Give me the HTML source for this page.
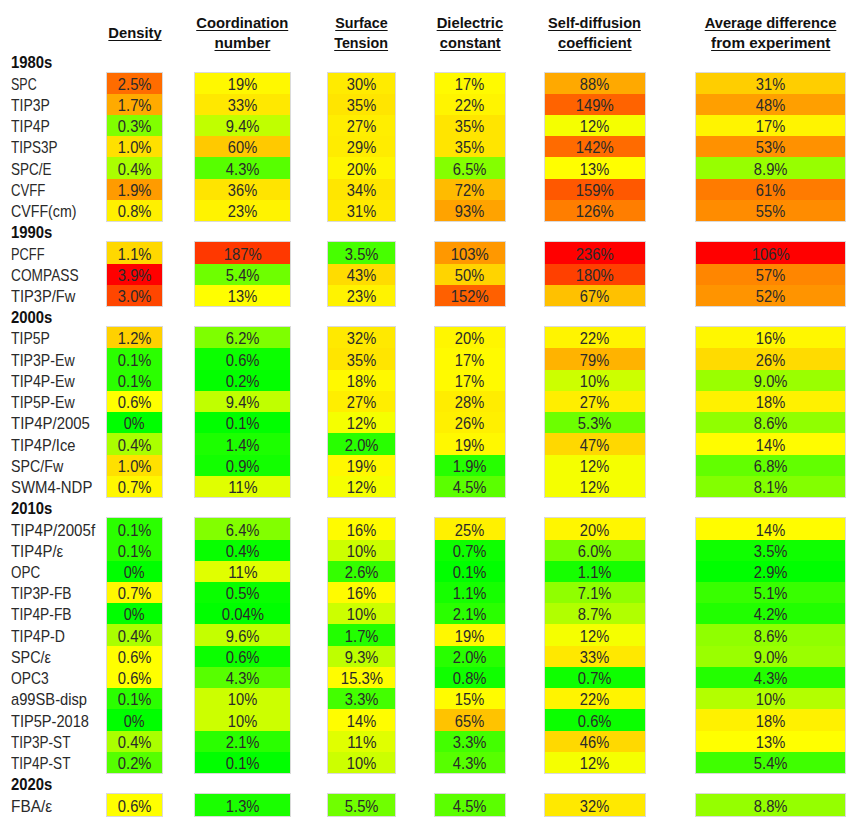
<!DOCTYPE html>
<html><head><meta charset="utf-8"><style>
html,body{margin:0;padding:0;background:#fff;}
body{width:860px;height:826px;position:relative;overflow:hidden;font-family:"Liberation Sans",Arial,sans-serif;color:#2a2a2a;}
.h{position:absolute;font-weight:bold;color:#111;font-size:15.5px;line-height:19.8px;text-align:center;white-space:nowrap;}
.h span{display:inline-block;transform-origin:50% 50%;text-decoration:underline;text-decoration-skip-ink:none;text-underline-offset:2px;text-decoration-thickness:1px;}
.lab{position:absolute;left:11px;font-size:15.5px;white-space:nowrap;line-height:21.23px;}
.lab span{display:inline-block;transform-origin:0 50%;}
.lab.b{font-weight:bold;color:#111;}
.blk{position:absolute;box-shadow:0 0 0 1px rgba(150,150,150,.35);}
.c{position:absolute;left:0;right:0;text-align:center;font-size:15.5px;line-height:21.23px;white-space:nowrap;}
.c span{display:inline-block;transform-origin:50% 50%;}
</style></head><body>

<div class="h" style="left:67px;width:135px;top:22.8px"><span style="transform:scaleX(0.952)">Density</span></div>
<div class="h" style="left:155px;width:175px;top:12.8px"><span style="transform:scaleX(0.954)">Coordination</span><br><span style="transform:scaleX(0.982)">number</span></div>
<div class="h" style="left:288px;width:147px;top:12.8px"><span style="transform:scaleX(0.921)">Surface</span><br><span style="transform:scaleX(0.924)">Tension</span></div>
<div class="h" style="left:395px;width:150px;top:12.8px"><span style="transform:scaleX(0.953)">Dielectric</span><br><span style="transform:scaleX(0.942)">constant</span></div>
<div class="h" style="left:505px;width:180px;top:12.8px"><span style="transform:scaleX(0.937)">Self-diffusion</span><br><span style="transform:scaleX(0.949)">coefficient</span></div>
<div class="h" style="left:656px;width:229px;top:12.8px"><span style="transform:scaleX(0.947)">Average difference</span><br><span style="transform:scaleX(0.982)">from experiment</span></div>
<div class="lab b" style="top:52.47px"><span style="transform:scale(0.957,1.08)">1980s</span></div>
<div class="lab" style="top:73.70px"><span style="transform:scale(0.805,1.08)">SPC</span></div>
<div class="lab" style="top:94.93px"><span style="transform:scale(0.900,1.08)">TIP3P</span></div>
<div class="lab" style="top:116.16px"><span style="transform:scale(0.900,1.08)">TIP4P</span></div>
<div class="lab" style="top:137.39px"><span style="transform:scale(0.872,1.08)">TIPS3P</span></div>
<div class="lab" style="top:158.62px"><span style="transform:scale(0.871,1.08)">SPC/E</span></div>
<div class="lab" style="top:179.85px"><span style="transform:scale(0.849,1.08)">CVFF</span></div>
<div class="lab" style="top:201.08px"><span style="transform:scale(0.916,1.08)">CVFF(cm)</span></div>
<div class="lab b" style="top:222.31px"><span style="transform:scale(0.957,1.08)">1990s</span></div>
<div class="lab" style="top:243.54px"><span style="transform:scale(0.827,1.08)">PCFF</span></div>
<div class="lab" style="top:264.77px"><span style="transform:scale(0.886,1.08)">COMPASS</span></div>
<div class="lab" style="top:286.00px"><span style="transform:scale(0.946,1.08)">TIP3P/Fw</span></div>
<div class="lab b" style="top:307.23px"><span style="transform:scale(0.957,1.08)">2000s</span></div>
<div class="lab" style="top:328.46px"><span style="transform:scale(0.900,1.08)">TIP5P</span></div>
<div class="lab" style="top:349.69px"><span style="transform:scale(0.912,1.08)">TIP3P-Ew</span></div>
<div class="lab" style="top:370.92px"><span style="transform:scale(0.912,1.08)">TIP4P-Ew</span></div>
<div class="lab" style="top:392.15px"><span style="transform:scale(0.912,1.08)">TIP5P-Ew</span></div>
<div class="lab" style="top:413.38px"><span style="transform:scale(0.964,1.08)">TIP4P/2005</span></div>
<div class="lab" style="top:434.61px"><span style="transform:scale(0.946,1.08)">TIP4P/Ice</span></div>
<div class="lab" style="top:455.84px"><span style="transform:scale(0.918,1.08)">SPC/Fw</span></div>
<div class="lab" style="top:477.07px"><span style="transform:scale(0.964,1.08)">SWM4-NDP</span></div>
<div class="lab b" style="top:498.30px"><span style="transform:scale(0.957,1.08)">2010s</span></div>
<div class="lab" style="top:519.53px"><span style="transform:scale(0.976,1.08)">TIP4P/2005f</span></div>
<div class="lab" style="top:540.76px"><span style="transform:scale(0.961,1.08)">TIP4P/ε</span></div>
<div class="lab" style="top:561.99px"><span style="transform:scale(0.867,1.08)">OPC</span></div>
<div class="lab" style="top:583.22px"><span style="transform:scale(0.889,1.08)">TIP3P-FB</span></div>
<div class="lab" style="top:604.45px"><span style="transform:scale(0.889,1.08)">TIP4P-FB</span></div>
<div class="lab" style="top:625.68px"><span style="transform:scale(0.907,1.08)">TIP4P-D</span></div>
<div class="lab" style="top:646.91px"><span style="transform:scale(0.927,1.08)">SPC/ε</span></div>
<div class="lab" style="top:668.14px"><span style="transform:scale(0.893,1.08)">OPC3</span></div>
<div class="lab" style="top:689.37px"><span style="transform:scale(0.949,1.08)">a99SB-disp</span></div>
<div class="lab" style="top:710.60px"><span style="transform:scale(0.942,1.08)">TIP5P-2018</span></div>
<div class="lab" style="top:731.83px"><span style="transform:scale(0.873,1.08)">TIP3P-ST</span></div>
<div class="lab" style="top:753.06px"><span style="transform:scale(0.873,1.08)">TIP4P-ST</span></div>
<div class="lab b" style="top:774.29px"><span style="transform:scale(0.957,1.08)">2020s</span></div>
<div class="lab" style="top:795.52px"><span style="transform:scale(0.992,1.08)">FBA/ε</span></div>
<div class="blk" style="left:107px;top:72.50px;width:55px;height:148.61px"><div class="c" style="top:0.00px;height:21.23px;background:#ff6c00"><span style="position:relative;top:1.2px;transform:scale(0.953,1.08)">2.5%</span></div><div class="c" style="top:21.23px;height:21.23px;background:#ffaa00"><span style="position:relative;top:1.2px;transform:scale(0.953,1.08)">1.7%</span></div><div class="c" style="top:42.46px;height:21.23px;background:#80ff00"><span style="position:relative;top:1.2px;transform:scale(0.953,1.08)">0.3%</span></div><div class="c" style="top:63.69px;height:21.23px;background:#ffe000"><span style="position:relative;top:1.2px;transform:scale(0.953,1.08)">1.0%</span></div><div class="c" style="top:84.92px;height:21.23px;background:#aaff00"><span style="position:relative;top:1.2px;transform:scale(0.953,1.08)">0.4%</span></div><div class="c" style="top:106.15px;height:21.23px;background:#ff9b00"><span style="position:relative;top:1.2px;transform:scale(0.953,1.08)">1.9%</span></div><div class="c" style="top:127.38px;height:21.23px;background:#fff000"><span style="position:relative;top:1.2px;transform:scale(0.953,1.08)">0.8%</span></div></div>
<div class="blk" style="left:195px;top:72.50px;width:95px;height:148.61px"><div class="c" style="top:0.00px;height:21.23px;background:#fff800"><span style="position:relative;top:1.2px;transform:scale(0.947,1.08)">19%</span></div><div class="c" style="top:21.23px;height:21.23px;background:#ffe800"><span style="position:relative;top:1.2px;transform:scale(0.947,1.08)">33%</span></div><div class="c" style="top:42.46px;height:21.23px;background:#c0ff00"><span style="position:relative;top:1.2px;transform:scale(0.953,1.08)">9.4%</span></div><div class="c" style="top:63.69px;height:21.23px;background:#ffc900"><span style="position:relative;top:1.2px;transform:scale(0.947,1.08)">60%</span></div><div class="c" style="top:84.92px;height:21.23px;background:#57ff00"><span style="position:relative;top:1.2px;transform:scale(0.953,1.08)">4.3%</span></div><div class="c" style="top:106.15px;height:21.23px;background:#ffe400"><span style="position:relative;top:1.2px;transform:scale(0.947,1.08)">36%</span></div><div class="c" style="top:127.38px;height:21.23px;background:#fff300"><span style="position:relative;top:1.2px;transform:scale(0.947,1.08)">23%</span></div></div>
<div class="blk" style="left:328px;top:72.50px;width:67px;height:148.61px"><div class="c" style="top:0.00px;height:21.23px;background:#ffeb00"><span style="position:relative;top:1.2px;transform:scale(0.947,1.08)">30%</span></div><div class="c" style="top:21.23px;height:21.23px;background:#ffe500"><span style="position:relative;top:1.2px;transform:scale(0.947,1.08)">35%</span></div><div class="c" style="top:42.46px;height:21.23px;background:#ffee00"><span style="position:relative;top:1.2px;transform:scale(0.947,1.08)">27%</span></div><div class="c" style="top:63.69px;height:21.23px;background:#ffec00"><span style="position:relative;top:1.2px;transform:scale(0.947,1.08)">29%</span></div><div class="c" style="top:84.92px;height:21.23px;background:#fff600"><span style="position:relative;top:1.2px;transform:scale(0.947,1.08)">20%</span></div><div class="c" style="top:106.15px;height:21.23px;background:#ffe600"><span style="position:relative;top:1.2px;transform:scale(0.947,1.08)">34%</span></div><div class="c" style="top:127.38px;height:21.23px;background:#ffea00"><span style="position:relative;top:1.2px;transform:scale(0.947,1.08)">31%</span></div></div>
<div class="blk" style="left:435px;top:72.50px;width:70px;height:148.61px"><div class="c" style="top:0.00px;height:21.23px;background:#fffa00"><span style="position:relative;top:1.2px;transform:scale(0.947,1.08)">17%</span></div><div class="c" style="top:21.23px;height:21.23px;background:#fff400"><span style="position:relative;top:1.2px;transform:scale(0.947,1.08)">22%</span></div><div class="c" style="top:42.46px;height:21.23px;background:#ffe500"><span style="position:relative;top:1.2px;transform:scale(0.947,1.08)">35%</span></div><div class="c" style="top:63.69px;height:21.23px;background:#ffe500"><span style="position:relative;top:1.2px;transform:scale(0.947,1.08)">35%</span></div><div class="c" style="top:84.92px;height:21.23px;background:#84ff00"><span style="position:relative;top:1.2px;transform:scale(0.953,1.08)">6.5%</span></div><div class="c" style="top:106.15px;height:21.23px;background:#ffbb00"><span style="position:relative;top:1.2px;transform:scale(0.947,1.08)">72%</span></div><div class="c" style="top:127.38px;height:21.23px;background:#ffa300"><span style="position:relative;top:1.2px;transform:scale(0.947,1.08)">93%</span></div></div>
<div class="blk" style="left:545px;top:72.50px;width:100px;height:148.61px"><div class="c" style="top:0.00px;height:21.23px;background:#ffa900"><span style="position:relative;top:1.2px;transform:scale(0.947,1.08)">88%</span></div><div class="c" style="top:21.23px;height:21.23px;background:#ff6300"><span style="position:relative;top:1.2px;transform:scale(0.959,1.08)">149%</span></div><div class="c" style="top:42.46px;height:21.23px;background:#f5ff00"><span style="position:relative;top:1.2px;transform:scale(0.947,1.08)">12%</span></div><div class="c" style="top:63.69px;height:21.23px;background:#ff6b00"><span style="position:relative;top:1.2px;transform:scale(0.959,1.08)">142%</span></div><div class="c" style="top:84.92px;height:21.23px;background:#fffe00"><span style="position:relative;top:1.2px;transform:scale(0.947,1.08)">13%</span></div><div class="c" style="top:106.15px;height:21.23px;background:#ff5800"><span style="position:relative;top:1.2px;transform:scale(0.959,1.08)">159%</span></div><div class="c" style="top:127.38px;height:21.23px;background:#ff7e00"><span style="position:relative;top:1.2px;transform:scale(0.959,1.08)">126%</span></div></div>
<div class="blk" style="left:696px;top:72.50px;width:149px;height:148.61px"><div class="c" style="top:0.00px;height:21.23px;background:#ffce00"><span style="position:relative;top:1.2px;transform:scale(0.947,1.08)">31%</span></div><div class="c" style="top:21.23px;height:21.23px;background:#ff9f00"><span style="position:relative;top:1.2px;transform:scale(0.947,1.08)">48%</span></div><div class="c" style="top:42.46px;height:21.23px;background:#fff400"><span style="position:relative;top:1.2px;transform:scale(0.947,1.08)">17%</span></div><div class="c" style="top:63.69px;height:21.23px;background:#ff9100"><span style="position:relative;top:1.2px;transform:scale(0.947,1.08)">53%</span></div><div class="c" style="top:84.92px;height:21.23px;background:#97ff00"><span style="position:relative;top:1.2px;transform:scale(0.953,1.08)">8.9%</span></div><div class="c" style="top:106.15px;height:21.23px;background:#ff7b00"><span style="position:relative;top:1.2px;transform:scale(0.947,1.08)">61%</span></div><div class="c" style="top:127.38px;height:21.23px;background:#ff8c00"><span style="position:relative;top:1.2px;transform:scale(0.947,1.08)">55%</span></div></div>
<div class="blk" style="left:107px;top:242.34px;width:55px;height:63.69px"><div class="c" style="top:0.00px;height:21.23px;background:#ffd800"><span style="position:relative;top:1.2px;transform:scale(0.953,1.08)">1.1%</span></div><div class="c" style="top:21.23px;height:21.23px;background:#ff0000"><span style="position:relative;top:1.2px;transform:scale(0.953,1.08)">3.9%</span></div><div class="c" style="top:42.46px;height:21.23px;background:#ff4600"><span style="position:relative;top:1.2px;transform:scale(0.953,1.08)">3.0%</span></div></div>
<div class="blk" style="left:195px;top:242.34px;width:95px;height:63.69px"><div class="c" style="top:0.00px;height:21.23px;background:#ff3800"><span style="position:relative;top:1.2px;transform:scale(0.959,1.08)">187%</span></div><div class="c" style="top:21.23px;height:21.23px;background:#6eff00"><span style="position:relative;top:1.2px;transform:scale(0.953,1.08)">5.4%</span></div><div class="c" style="top:42.46px;height:21.23px;background:#fffe00"><span style="position:relative;top:1.2px;transform:scale(0.947,1.08)">13%</span></div></div>
<div class="blk" style="left:328px;top:242.34px;width:67px;height:63.69px"><div class="c" style="top:0.00px;height:21.23px;background:#47ff00"><span style="position:relative;top:1.2px;transform:scale(0.953,1.08)">3.5%</span></div><div class="c" style="top:21.23px;height:21.23px;background:#ffdc00"><span style="position:relative;top:1.2px;transform:scale(0.947,1.08)">43%</span></div><div class="c" style="top:42.46px;height:21.23px;background:#fff300"><span style="position:relative;top:1.2px;transform:scale(0.947,1.08)">23%</span></div></div>
<div class="blk" style="left:435px;top:242.34px;width:70px;height:63.69px"><div class="c" style="top:0.00px;height:21.23px;background:#ff9800"><span style="position:relative;top:1.2px;transform:scale(0.959,1.08)">103%</span></div><div class="c" style="top:21.23px;height:21.23px;background:#ffd400"><span style="position:relative;top:1.2px;transform:scale(0.947,1.08)">50%</span></div><div class="c" style="top:42.46px;height:21.23px;background:#ff6000"><span style="position:relative;top:1.2px;transform:scale(0.959,1.08)">152%</span></div></div>
<div class="blk" style="left:545px;top:242.34px;width:100px;height:63.69px"><div class="c" style="top:0.00px;height:21.23px;background:#ff0000"><span style="position:relative;top:1.2px;transform:scale(0.959,1.08)">236%</span></div><div class="c" style="top:21.23px;height:21.23px;background:#ff4000"><span style="position:relative;top:1.2px;transform:scale(0.959,1.08)">180%</span></div><div class="c" style="top:42.46px;height:21.23px;background:#ffc100"><span style="position:relative;top:1.2px;transform:scale(0.947,1.08)">67%</span></div></div>
<div class="blk" style="left:696px;top:242.34px;width:149px;height:63.69px"><div class="c" style="top:0.00px;height:21.23px;background:#ff0000"><span style="position:relative;top:1.2px;transform:scale(0.959,1.08)">106%</span></div><div class="c" style="top:21.23px;height:21.23px;background:#ff8600"><span style="position:relative;top:1.2px;transform:scale(0.947,1.08)">57%</span></div><div class="c" style="top:42.46px;height:21.23px;background:#ff9400"><span style="position:relative;top:1.2px;transform:scale(0.947,1.08)">52%</span></div></div>
<div class="blk" style="left:107px;top:327.26px;width:55px;height:169.84px"><div class="c" style="top:0.00px;height:21.23px;background:#ffd100"><span style="position:relative;top:1.2px;transform:scale(0.953,1.08)">1.2%</span></div><div class="c" style="top:21.23px;height:21.23px;background:#2bff00"><span style="position:relative;top:1.2px;transform:scale(0.953,1.08)">0.1%</span></div><div class="c" style="top:42.46px;height:21.23px;background:#2bff00"><span style="position:relative;top:1.2px;transform:scale(0.953,1.08)">0.1%</span></div><div class="c" style="top:63.69px;height:21.23px;background:#ffff00"><span style="position:relative;top:1.2px;transform:scale(0.953,1.08)">0.6%</span></div><div class="c" style="top:84.92px;height:21.23px;background:#00ff00"><span style="position:relative;top:1.2px;transform:scale(0.927,1.08)">0%</span></div><div class="c" style="top:106.15px;height:21.23px;background:#aaff00"><span style="position:relative;top:1.2px;transform:scale(0.953,1.08)">0.4%</span></div><div class="c" style="top:127.38px;height:21.23px;background:#ffe000"><span style="position:relative;top:1.2px;transform:scale(0.953,1.08)">1.0%</span></div><div class="c" style="top:148.61px;height:21.23px;background:#fff700"><span style="position:relative;top:1.2px;transform:scale(0.953,1.08)">0.7%</span></div></div>
<div class="blk" style="left:195px;top:327.26px;width:95px;height:169.84px"><div class="c" style="top:0.00px;height:21.23px;background:#7eff00"><span style="position:relative;top:1.2px;transform:scale(0.953,1.08)">6.2%</span></div><div class="c" style="top:21.23px;height:21.23px;background:#0bff00"><span style="position:relative;top:1.2px;transform:scale(0.953,1.08)">0.6%</span></div><div class="c" style="top:42.46px;height:21.23px;background:#03ff00"><span style="position:relative;top:1.2px;transform:scale(0.953,1.08)">0.2%</span></div><div class="c" style="top:63.69px;height:21.23px;background:#c0ff00"><span style="position:relative;top:1.2px;transform:scale(0.953,1.08)">9.4%</span></div><div class="c" style="top:84.92px;height:21.23px;background:#01ff00"><span style="position:relative;top:1.2px;transform:scale(0.953,1.08)">0.1%</span></div><div class="c" style="top:106.15px;height:21.23px;background:#1cff00"><span style="position:relative;top:1.2px;transform:scale(0.953,1.08)">1.4%</span></div><div class="c" style="top:127.38px;height:21.23px;background:#12ff00"><span style="position:relative;top:1.2px;transform:scale(0.953,1.08)">0.9%</span></div><div class="c" style="top:148.61px;height:21.23px;background:#e0ff00"><span style="position:relative;top:1.2px;transform:scale(0.984,1.08)">11%</span></div></div>
<div class="blk" style="left:328px;top:327.26px;width:67px;height:169.84px"><div class="c" style="top:0.00px;height:21.23px;background:#ffe900"><span style="position:relative;top:1.2px;transform:scale(0.947,1.08)">32%</span></div><div class="c" style="top:21.23px;height:21.23px;background:#ffe500"><span style="position:relative;top:1.2px;transform:scale(0.947,1.08)">35%</span></div><div class="c" style="top:42.46px;height:21.23px;background:#fff900"><span style="position:relative;top:1.2px;transform:scale(0.947,1.08)">18%</span></div><div class="c" style="top:63.69px;height:21.23px;background:#ffee00"><span style="position:relative;top:1.2px;transform:scale(0.947,1.08)">27%</span></div><div class="c" style="top:84.92px;height:21.23px;background:#f5ff00"><span style="position:relative;top:1.2px;transform:scale(0.947,1.08)">12%</span></div><div class="c" style="top:106.15px;height:21.23px;background:#28ff00"><span style="position:relative;top:1.2px;transform:scale(0.953,1.08)">2.0%</span></div><div class="c" style="top:127.38px;height:21.23px;background:#fff800"><span style="position:relative;top:1.2px;transform:scale(0.947,1.08)">19%</span></div><div class="c" style="top:148.61px;height:21.23px;background:#f5ff00"><span style="position:relative;top:1.2px;transform:scale(0.947,1.08)">12%</span></div></div>
<div class="blk" style="left:435px;top:327.26px;width:70px;height:169.84px"><div class="c" style="top:0.00px;height:21.23px;background:#fff600"><span style="position:relative;top:1.2px;transform:scale(0.947,1.08)">20%</span></div><div class="c" style="top:21.23px;height:21.23px;background:#fffa00"><span style="position:relative;top:1.2px;transform:scale(0.947,1.08)">17%</span></div><div class="c" style="top:42.46px;height:21.23px;background:#fffa00"><span style="position:relative;top:1.2px;transform:scale(0.947,1.08)">17%</span></div><div class="c" style="top:63.69px;height:21.23px;background:#ffed00"><span style="position:relative;top:1.2px;transform:scale(0.947,1.08)">28%</span></div><div class="c" style="top:84.92px;height:21.23px;background:#fff000"><span style="position:relative;top:1.2px;transform:scale(0.947,1.08)">26%</span></div><div class="c" style="top:106.15px;height:21.23px;background:#fff800"><span style="position:relative;top:1.2px;transform:scale(0.947,1.08)">19%</span></div><div class="c" style="top:127.38px;height:21.23px;background:#26ff00"><span style="position:relative;top:1.2px;transform:scale(0.953,1.08)">1.9%</span></div><div class="c" style="top:148.61px;height:21.23px;background:#5bff00"><span style="position:relative;top:1.2px;transform:scale(0.953,1.08)">4.5%</span></div></div>
<div class="blk" style="left:545px;top:327.26px;width:100px;height:169.84px"><div class="c" style="top:0.00px;height:21.23px;background:#fff400"><span style="position:relative;top:1.2px;transform:scale(0.947,1.08)">22%</span></div><div class="c" style="top:21.23px;height:21.23px;background:#ffb300"><span style="position:relative;top:1.2px;transform:scale(0.947,1.08)">79%</span></div><div class="c" style="top:42.46px;height:21.23px;background:#ccff00"><span style="position:relative;top:1.2px;transform:scale(0.947,1.08)">10%</span></div><div class="c" style="top:63.69px;height:21.23px;background:#ffee00"><span style="position:relative;top:1.2px;transform:scale(0.947,1.08)">27%</span></div><div class="c" style="top:84.92px;height:21.23px;background:#6cff00"><span style="position:relative;top:1.2px;transform:scale(0.953,1.08)">5.3%</span></div><div class="c" style="top:106.15px;height:21.23px;background:#ffd800"><span style="position:relative;top:1.2px;transform:scale(0.947,1.08)">47%</span></div><div class="c" style="top:127.38px;height:21.23px;background:#f5ff00"><span style="position:relative;top:1.2px;transform:scale(0.947,1.08)">12%</span></div><div class="c" style="top:148.61px;height:21.23px;background:#f5ff00"><span style="position:relative;top:1.2px;transform:scale(0.947,1.08)">12%</span></div></div>
<div class="blk" style="left:696px;top:327.26px;width:149px;height:169.84px"><div class="c" style="top:0.00px;height:21.23px;background:#fff700"><span style="position:relative;top:1.2px;transform:scale(0.947,1.08)">16%</span></div><div class="c" style="top:21.23px;height:21.23px;background:#ffdb00"><span style="position:relative;top:1.2px;transform:scale(0.947,1.08)">26%</span></div><div class="c" style="top:42.46px;height:21.23px;background:#9aff00"><span style="position:relative;top:1.2px;transform:scale(0.953,1.08)">9.0%</span></div><div class="c" style="top:63.69px;height:21.23px;background:#fff100"><span style="position:relative;top:1.2px;transform:scale(0.947,1.08)">18%</span></div><div class="c" style="top:84.92px;height:21.23px;background:#90ff00"><span style="position:relative;top:1.2px;transform:scale(0.953,1.08)">8.6%</span></div><div class="c" style="top:106.15px;height:21.23px;background:#fffc00"><span style="position:relative;top:1.2px;transform:scale(0.947,1.08)">14%</span></div><div class="c" style="top:127.38px;height:21.23px;background:#62ff00"><span style="position:relative;top:1.2px;transform:scale(0.953,1.08)">6.8%</span></div><div class="c" style="top:148.61px;height:21.23px;background:#83ff00"><span style="position:relative;top:1.2px;transform:scale(0.953,1.08)">8.1%</span></div></div>
<div class="blk" style="left:107px;top:518.33px;width:55px;height:254.76px"><div class="c" style="top:0.00px;height:21.23px;background:#2bff00"><span style="position:relative;top:1.2px;transform:scale(0.953,1.08)">0.1%</span></div><div class="c" style="top:21.23px;height:21.23px;background:#2bff00"><span style="position:relative;top:1.2px;transform:scale(0.953,1.08)">0.1%</span></div><div class="c" style="top:42.46px;height:21.23px;background:#00ff00"><span style="position:relative;top:1.2px;transform:scale(0.927,1.08)">0%</span></div><div class="c" style="top:63.69px;height:21.23px;background:#fff700"><span style="position:relative;top:1.2px;transform:scale(0.953,1.08)">0.7%</span></div><div class="c" style="top:84.92px;height:21.23px;background:#00ff00"><span style="position:relative;top:1.2px;transform:scale(0.927,1.08)">0%</span></div><div class="c" style="top:106.15px;height:21.23px;background:#aaff00"><span style="position:relative;top:1.2px;transform:scale(0.953,1.08)">0.4%</span></div><div class="c" style="top:127.38px;height:21.23px;background:#ffff00"><span style="position:relative;top:1.2px;transform:scale(0.953,1.08)">0.6%</span></div><div class="c" style="top:148.61px;height:21.23px;background:#ffff00"><span style="position:relative;top:1.2px;transform:scale(0.953,1.08)">0.6%</span></div><div class="c" style="top:169.84px;height:21.23px;background:#2bff00"><span style="position:relative;top:1.2px;transform:scale(0.953,1.08)">0.1%</span></div><div class="c" style="top:191.07px;height:21.23px;background:#00ff00"><span style="position:relative;top:1.2px;transform:scale(0.927,1.08)">0%</span></div><div class="c" style="top:212.30px;height:21.23px;background:#aaff00"><span style="position:relative;top:1.2px;transform:scale(0.953,1.08)">0.4%</span></div><div class="c" style="top:233.53px;height:21.23px;background:#55ff00"><span style="position:relative;top:1.2px;transform:scale(0.953,1.08)">0.2%</span></div></div>
<div class="blk" style="left:195px;top:518.33px;width:95px;height:254.76px"><div class="c" style="top:0.00px;height:21.23px;background:#82ff00"><span style="position:relative;top:1.2px;transform:scale(0.953,1.08)">6.4%</span></div><div class="c" style="top:21.23px;height:21.23px;background:#07ff00"><span style="position:relative;top:1.2px;transform:scale(0.953,1.08)">0.4%</span></div><div class="c" style="top:42.46px;height:21.23px;background:#e0ff00"><span style="position:relative;top:1.2px;transform:scale(0.984,1.08)">11%</span></div><div class="c" style="top:63.69px;height:21.23px;background:#09ff00"><span style="position:relative;top:1.2px;transform:scale(0.953,1.08)">0.5%</span></div><div class="c" style="top:84.92px;height:21.23px;background:#00ff00"><span style="position:relative;top:1.2px;transform:scale(0.962,1.08)">0.04%</span></div><div class="c" style="top:106.15px;height:21.23px;background:#c4ff00"><span style="position:relative;top:1.2px;transform:scale(0.953,1.08)">9.6%</span></div><div class="c" style="top:127.38px;height:21.23px;background:#0bff00"><span style="position:relative;top:1.2px;transform:scale(0.953,1.08)">0.6%</span></div><div class="c" style="top:148.61px;height:21.23px;background:#57ff00"><span style="position:relative;top:1.2px;transform:scale(0.953,1.08)">4.3%</span></div><div class="c" style="top:169.84px;height:21.23px;background:#ccff00"><span style="position:relative;top:1.2px;transform:scale(0.947,1.08)">10%</span></div><div class="c" style="top:191.07px;height:21.23px;background:#ccff00"><span style="position:relative;top:1.2px;transform:scale(0.947,1.08)">10%</span></div><div class="c" style="top:212.30px;height:21.23px;background:#2aff00"><span style="position:relative;top:1.2px;transform:scale(0.953,1.08)">2.1%</span></div><div class="c" style="top:233.53px;height:21.23px;background:#01ff00"><span style="position:relative;top:1.2px;transform:scale(0.953,1.08)">0.1%</span></div></div>
<div class="blk" style="left:328px;top:518.33px;width:67px;height:254.76px"><div class="c" style="top:0.00px;height:21.23px;background:#fffb00"><span style="position:relative;top:1.2px;transform:scale(0.947,1.08)">16%</span></div><div class="c" style="top:21.23px;height:21.23px;background:#ccff00"><span style="position:relative;top:1.2px;transform:scale(0.947,1.08)">10%</span></div><div class="c" style="top:42.46px;height:21.23px;background:#34ff00"><span style="position:relative;top:1.2px;transform:scale(0.953,1.08)">2.6%</span></div><div class="c" style="top:63.69px;height:21.23px;background:#fffb00"><span style="position:relative;top:1.2px;transform:scale(0.947,1.08)">16%</span></div><div class="c" style="top:84.92px;height:21.23px;background:#ccff00"><span style="position:relative;top:1.2px;transform:scale(0.947,1.08)">10%</span></div><div class="c" style="top:106.15px;height:21.23px;background:#22ff00"><span style="position:relative;top:1.2px;transform:scale(0.953,1.08)">1.7%</span></div><div class="c" style="top:127.38px;height:21.23px;background:#beff00"><span style="position:relative;top:1.2px;transform:scale(0.953,1.08)">9.3%</span></div><div class="c" style="top:148.61px;height:21.23px;background:#fffc00"><span style="position:relative;top:1.2px;transform:scale(0.962,1.08)">15.3%</span></div><div class="c" style="top:169.84px;height:21.23px;background:#43ff00"><span style="position:relative;top:1.2px;transform:scale(0.953,1.08)">3.3%</span></div><div class="c" style="top:191.07px;height:21.23px;background:#fffd00"><span style="position:relative;top:1.2px;transform:scale(0.947,1.08)">14%</span></div><div class="c" style="top:212.30px;height:21.23px;background:#e0ff00"><span style="position:relative;top:1.2px;transform:scale(0.984,1.08)">11%</span></div><div class="c" style="top:233.53px;height:21.23px;background:#ccff00"><span style="position:relative;top:1.2px;transform:scale(0.947,1.08)">10%</span></div></div>
<div class="blk" style="left:435px;top:518.33px;width:70px;height:254.76px"><div class="c" style="top:0.00px;height:21.23px;background:#fff100"><span style="position:relative;top:1.2px;transform:scale(0.947,1.08)">25%</span></div><div class="c" style="top:21.23px;height:21.23px;background:#0eff00"><span style="position:relative;top:1.2px;transform:scale(0.953,1.08)">0.7%</span></div><div class="c" style="top:42.46px;height:21.23px;background:#01ff00"><span style="position:relative;top:1.2px;transform:scale(0.953,1.08)">0.1%</span></div><div class="c" style="top:63.69px;height:21.23px;background:#16ff00"><span style="position:relative;top:1.2px;transform:scale(0.953,1.08)">1.1%</span></div><div class="c" style="top:84.92px;height:21.23px;background:#2aff00"><span style="position:relative;top:1.2px;transform:scale(0.953,1.08)">2.1%</span></div><div class="c" style="top:106.15px;height:21.23px;background:#fff800"><span style="position:relative;top:1.2px;transform:scale(0.947,1.08)">19%</span></div><div class="c" style="top:127.38px;height:21.23px;background:#28ff00"><span style="position:relative;top:1.2px;transform:scale(0.953,1.08)">2.0%</span></div><div class="c" style="top:148.61px;height:21.23px;background:#10ff00"><span style="position:relative;top:1.2px;transform:scale(0.953,1.08)">0.8%</span></div><div class="c" style="top:169.84px;height:21.23px;background:#fffc00"><span style="position:relative;top:1.2px;transform:scale(0.947,1.08)">15%</span></div><div class="c" style="top:191.07px;height:21.23px;background:#ffc300"><span style="position:relative;top:1.2px;transform:scale(0.947,1.08)">65%</span></div><div class="c" style="top:212.30px;height:21.23px;background:#43ff00"><span style="position:relative;top:1.2px;transform:scale(0.953,1.08)">3.3%</span></div><div class="c" style="top:233.53px;height:21.23px;background:#57ff00"><span style="position:relative;top:1.2px;transform:scale(0.953,1.08)">4.3%</span></div></div>
<div class="blk" style="left:545px;top:518.33px;width:100px;height:254.76px"><div class="c" style="top:0.00px;height:21.23px;background:#fff600"><span style="position:relative;top:1.2px;transform:scale(0.947,1.08)">20%</span></div><div class="c" style="top:21.23px;height:21.23px;background:#7aff00"><span style="position:relative;top:1.2px;transform:scale(0.953,1.08)">6.0%</span></div><div class="c" style="top:42.46px;height:21.23px;background:#16ff00"><span style="position:relative;top:1.2px;transform:scale(0.953,1.08)">1.1%</span></div><div class="c" style="top:63.69px;height:21.23px;background:#90ff00"><span style="position:relative;top:1.2px;transform:scale(0.953,1.08)">7.1%</span></div><div class="c" style="top:84.92px;height:21.23px;background:#b1ff00"><span style="position:relative;top:1.2px;transform:scale(0.953,1.08)">8.7%</span></div><div class="c" style="top:106.15px;height:21.23px;background:#f5ff00"><span style="position:relative;top:1.2px;transform:scale(0.947,1.08)">12%</span></div><div class="c" style="top:127.38px;height:21.23px;background:#ffe800"><span style="position:relative;top:1.2px;transform:scale(0.947,1.08)">33%</span></div><div class="c" style="top:148.61px;height:21.23px;background:#0eff00"><span style="position:relative;top:1.2px;transform:scale(0.953,1.08)">0.7%</span></div><div class="c" style="top:169.84px;height:21.23px;background:#fff400"><span style="position:relative;top:1.2px;transform:scale(0.947,1.08)">22%</span></div><div class="c" style="top:191.07px;height:21.23px;background:#0bff00"><span style="position:relative;top:1.2px;transform:scale(0.953,1.08)">0.6%</span></div><div class="c" style="top:212.30px;height:21.23px;background:#ffd900"><span style="position:relative;top:1.2px;transform:scale(0.947,1.08)">46%</span></div><div class="c" style="top:233.53px;height:21.23px;background:#f5ff00"><span style="position:relative;top:1.2px;transform:scale(0.947,1.08)">12%</span></div></div>
<div class="blk" style="left:696px;top:518.33px;width:149px;height:254.76px"><div class="c" style="top:0.00px;height:21.23px;background:#fffc00"><span style="position:relative;top:1.2px;transform:scale(0.947,1.08)">14%</span></div><div class="c" style="top:21.23px;height:21.23px;background:#0fff00"><span style="position:relative;top:1.2px;transform:scale(0.953,1.08)">3.5%</span></div><div class="c" style="top:42.46px;height:21.23px;background:#00ff00"><span style="position:relative;top:1.2px;transform:scale(0.953,1.08)">2.9%</span></div><div class="c" style="top:63.69px;height:21.23px;background:#38ff00"><span style="position:relative;top:1.2px;transform:scale(0.953,1.08)">5.1%</span></div><div class="c" style="top:84.92px;height:21.23px;background:#21ff00"><span style="position:relative;top:1.2px;transform:scale(0.953,1.08)">4.2%</span></div><div class="c" style="top:106.15px;height:21.23px;background:#90ff00"><span style="position:relative;top:1.2px;transform:scale(0.953,1.08)">8.6%</span></div><div class="c" style="top:127.38px;height:21.23px;background:#9aff00"><span style="position:relative;top:1.2px;transform:scale(0.953,1.08)">9.0%</span></div><div class="c" style="top:148.61px;height:21.23px;background:#23ff00"><span style="position:relative;top:1.2px;transform:scale(0.953,1.08)">4.3%</span></div><div class="c" style="top:169.84px;height:21.23px;background:#b3ff00"><span style="position:relative;top:1.2px;transform:scale(0.947,1.08)">10%</span></div><div class="c" style="top:191.07px;height:21.23px;background:#fff100"><span style="position:relative;top:1.2px;transform:scale(0.947,1.08)">18%</span></div><div class="c" style="top:212.30px;height:21.23px;background:#ffff00"><span style="position:relative;top:1.2px;transform:scale(0.947,1.08)">13%</span></div><div class="c" style="top:233.53px;height:21.23px;background:#3fff00"><span style="position:relative;top:1.2px;transform:scale(0.953,1.08)">5.4%</span></div></div>
<div class="blk" style="left:107px;top:794.32px;width:55px;height:21.23px"><div class="c" style="top:0.00px;height:21.23px;background:#ffff00"><span style="position:relative;top:1.2px;transform:scale(0.953,1.08)">0.6%</span></div></div>
<div class="blk" style="left:195px;top:794.32px;width:95px;height:21.23px"><div class="c" style="top:0.00px;height:21.23px;background:#1aff00"><span style="position:relative;top:1.2px;transform:scale(0.953,1.08)">1.3%</span></div></div>
<div class="blk" style="left:328px;top:794.32px;width:67px;height:21.23px"><div class="c" style="top:0.00px;height:21.23px;background:#70ff00"><span style="position:relative;top:1.2px;transform:scale(0.953,1.08)">5.5%</span></div></div>
<div class="blk" style="left:435px;top:794.32px;width:70px;height:21.23px"><div class="c" style="top:0.00px;height:21.23px;background:#5bff00"><span style="position:relative;top:1.2px;transform:scale(0.953,1.08)">4.5%</span></div></div>
<div class="blk" style="left:545px;top:794.32px;width:100px;height:21.23px"><div class="c" style="top:0.00px;height:21.23px;background:#ffe900"><span style="position:relative;top:1.2px;transform:scale(0.947,1.08)">32%</span></div></div>
<div class="blk" style="left:696px;top:794.32px;width:149px;height:21.23px"><div class="c" style="top:0.00px;height:21.23px;background:#95ff00"><span style="position:relative;top:1.2px;transform:scale(0.953,1.08)">8.8%</span></div></div>
</body></html>
